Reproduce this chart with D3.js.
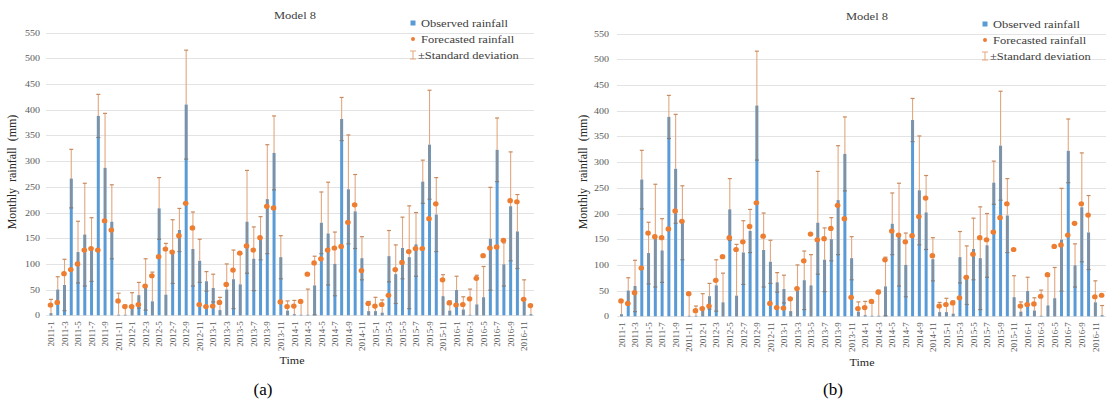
<!DOCTYPE html>
<html lang="en">
<head>
  <meta charset="UTF-8">
  <title>Model 8 rainfall</title>
  <style>
    body { margin: 0; background: #fff; }
    svg { display: block; font-family: "Liberation Serif", "Times New Roman", serif; }
    .grid line { stroke: #e3e3e3; stroke-width: 1; }
    .tick-label { fill: #595959; font-size: 10px; }
    .xtick { fill: #595959; font-size: 9px; }
    .title { fill: #404040; font-size: 12.5px; }
    .legend text { fill: #404040; font-size: 12.5px; }
    .axis-title { fill: #262626; font-size: 12px; }
    .caption { fill: #000; font-size: 17px; }
  </style>
</head>
<body>
  <svg width="1107" height="404"></svg>

  <script src="https://d3js.org/d3.v7.min.js"></script>
  <script>
    const months = [
      "2011-1","2011-2","2011-3","2011-4","2011-5","2011-6","2011-7","2011-8","2011-9","2011-10","2011-11","2011-12",
      "2012-1","2012-2","2012-3","2012-4","2012-5","2012-6","2012-7","2012-8","2012-9","2012-10","2012-11","2012-12",
      "2013-1","2013-2","2013-3","2013-4","2013-5","2013-6","2013-7","2013-8","2013-9","2013-10","2013-11","2013-12",
      "2014-1","2014-2","2014-3","2014-4","2014-5","2014-6","2014-7","2014-8","2014-9","2014-10","2014-11","2014-12",
      "2015-1","2015-2","2015-3","2015-4","2015-5","2015-6","2015-7","2015-8","2015-9","2015-10","2015-11","2015-12",
      "2016-1","2016-2","2016-3","2016-4","2016-5","2016-6","2016-7","2016-8","2016-9","2016-10","2016-11","2016-12"
    ];

    const observed = [
      4, 50, 59, 266, 123, 157, 128, 388, 287, 182, 1, 1,
      17, 39, 60, 27, 208, 40, 124, 166, 410, 129, 106, 66,
      53, 10, 50, 70, 60, 182, 110, 150, 226, 316, 113, 9,
      2, 1, 1, 58, 180, 159, 100, 382, 245, 202, 111, 8,
      8, 5, 115, 80, 131, 113, 138, 260, 332, 196, 37, 9,
      49, 11, 1, 21, 35, 149, 322, 99, 212, 163, 27, 2
    ];

    const stdDev = [
      27, 25, 50, 57, 60, 100, 62, 42, 106, 72, 42, 19,
      27, 25, 50, 57, 60, 100, 62, 42, 106, 72, 42, 19,
      27, 25, 50, 57, 60, 100, 62, 42, 106, 72, 42, 19,
      27, 25, 50, 57, 60, 100, 62, 42, 106, 72, 42, 19,
      27, 25, 50, 57, 60, 100, 62, 42, 106, 72, 42, 19,
      27, 25, 50, 57, 60, 100, 62, 42, 106, 72, 42, 19
    ];

    const forecastA = [
      20, 25, 81, 89, 100, 127, 130, 127, 184, 166, 28, 17,
      17, 21, 57, 77, 114, 129, 123, 155, 218, 170, 21, 17,
      18, 25, 60, 88, 121, 135, 127, 151, 212, 209, 26, 17,
      18, 27, 80, 102, 110, 127, 131, 134, 181, 215, 87, 23,
      18, 21, 39, 89, 103, 124, 130, 130, 188, 217, 69, 24,
      20, 21, 32, 72, 116, 131, 133, 146, 223, 221, 31, 19
    ];

    const forecastB = [
      30, 25, 46, 94, 162, 155, 153, 170, 205, 185, 44, 11,
      15, 20, 70, 116, 153, 130, 145, 175, 221, 156, 25, 17,
      16, 34, 54, 108, 160, 149, 151, 171, 216, 190, 37, 15,
      17, 29, 47, 110, 166, 158, 145, 157, 194, 230, 118, 20,
      23, 26, 36, 76, 121, 153, 149, 164, 192, 219, 130, 20,
      23, 24, 39, 81, 136, 139, 158, 181, 219, 197, 38, 41
    ];

    const yTicks = [0, 50, 100, 150, 200, 250, 300, 350, 400, 450, 500, 550];
    const xTickLabels = months.filter((m, i) => i % 2 === 0);

    const legendItems = ["Observed rainfall", "Forecasted rainfall", "\u00b1Standard deviation"];

    const barColor = "#5b9bd5";
    const dotColor = "#ed7d31";
    const errColor = "#e3a77f";
    const errInside = "#8a8f96";

    const svg = d3.select("svg");

    const panels = [
      { forecast: forecastA, x0: 47.6, x1: 534.3, gx0: 46, gx1: 534, yBottom: 315.3, yTop: 32.7,
        labelRight: 40, titleX: 295, titleY: 19, legX: 413, legY: 23,
        yTitleX: 16, yTitleY: 172, timeX: 292, timeY: 364, capX: 263, capY: 395, cap: "(a)" },
      { forecast: forecastB, x0: 618.1, x1: 1105.5, gx0: 617, gx1: 1106, yBottom: 316.3, yTop: 33.7,
        labelRight: 609, titleX: 867, titleY: 20, legX: 985, legY: 24,
        yTitleX: 587, yTitleY: 172, timeX: 862, timeY: 366, capX: 833, capY: 395, cap: "(b)" }
    ];

    function drawPanel(p) {
      const g = svg.append("g");

      const x = d3.scaleBand().domain(months).range([p.x0, p.x1]);
      const y = d3.scaleLinear().domain([0, 550]).range([p.yBottom, p.yTop]);
      const bw = 3;

      // gridlines
      g.append("g").attr("class", "grid")
        .selectAll("line").data(yTicks).join("line")
        .attr("x1", p.gx0).attr("x2", p.gx1)
        .attr("y1", d => Math.round(y(d)) + 0.5).attr("y2", d => Math.round(y(d)) + 0.5);

      // y tick labels
      g.selectAll(".ylab").data(yTicks).join("text")
        .attr("class", "tick-label")
        .attr("text-anchor", "end")
        .attr("transform", d => `translate(${p.labelRight},${y(d) + 3}) scale(1,0.9)`)
        .text(d => d);

      // x tick labels (every other month, rotated)
      g.selectAll(".xlab").data(xTickLabels).join("text")
        .attr("class", "xtick")
        .attr("text-anchor", "end")
        .attr("transform", d => `translate(${x(d) + x.bandwidth() / 2 + 3.2},${p.yBottom + 6}) rotate(-90)`)
        .text(d => d);

      const cx = d => x(d) + x.bandwidth() / 2;

      // observed bars
      g.selectAll(".bar").data(months).join("rect")
        .attr("x", d => cx(d) - bw / 2)
        .attr("width", bw)
        .attr("y", (d, i) => y(observed[i]))
        .attr("height", (d, i) => y(0) - y(observed[i]))
        .attr("fill", barColor);

      // error bars
      const eb = g.append("g");
      months.forEach((m, i) => {
        const v = observed[i], s = stdDev[i];
        const lo = Math.max(0, v - s), hi = v + s;
        const c = cx(m);
        eb.append("line").attr("x1", c).attr("x2", c)
          .attr("y1", y(lo)).attr("y2", y(v))
          .attr("stroke", errInside).attr("stroke-width", 2);
        eb.append("line").attr("x1", c).attr("x2", c)
          .attr("y1", y(v)).attr("y2", y(hi))
          .attr("stroke", errColor).attr("stroke-width", 1.1);
        eb.append("line").attr("x1", c - 2).attr("x2", c + 2)
          .attr("y1", y(hi)).attr("y2", y(hi))
          .attr("stroke", "#c98a5e").attr("stroke-width", 1.2);
        if (v - s > 0) {
          eb.append("line").attr("x1", c - 2).attr("x2", c + 2)
            .attr("y1", y(lo)).attr("y2", y(lo))
            .attr("stroke", "#7d7d7d").attr("stroke-width", 1.2);
        }
      });

      // forecast dots
      g.selectAll(".dot").data(months).join("ellipse")
        .attr("cx", d => cx(d) - 0.5)
        .attr("cy", (d, i) => y(p.forecast[i]))
        .attr("rx", 2.8).attr("ry", 2.6)
        .attr("fill", dotColor);

      // title
      g.append("text").attr("class", "title")
        .attr("text-anchor", "middle")
        .attr("transform", `translate(${p.titleX},${p.titleY}) scale(1,0.9)`)
        .text("Model 8");

      // legend
      const lg = g.append("g").attr("class", "legend");
      lg.append("rect").attr("x", p.legX - 2.5).attr("y", p.legY - 2.5)
        .attr("width", 5).attr("height", 5).attr("fill", barColor);
      lg.append("circle").attr("cx", p.legX).attr("cy", p.legY + 16)
        .attr("r", 2).attr("fill", dotColor);
      const ey = p.legY + 32;
      lg.append("line").attr("x1", p.legX).attr("x2", p.legX).attr("y1", ey - 4).attr("y2", ey + 4)
        .attr("stroke", errColor).attr("stroke-width", 1);
      lg.append("line").attr("x1", p.legX - 3).attr("x2", p.legX + 3).attr("y1", ey - 4).attr("y2", ey - 4)
        .attr("stroke", errColor).attr("stroke-width", 1);
      lg.append("line").attr("x1", p.legX - 3).attr("x2", p.legX + 3).attr("y1", ey + 4).attr("y2", ey + 4)
        .attr("stroke", errColor).attr("stroke-width", 1);
      lg.selectAll("text").data(legendItems).join("text")
        .attr("transform", (d, i) => `translate(${p.legX + (i === 2 ? 5 : 8)},${p.legY + 4 + i * 16}) scale(1,0.9)`)
        .text(d => d);

      // axis titles
      g.append("text").attr("class", "axis-title")
        .attr("text-anchor", "middle")
        .attr("transform", `translate(${p.yTitleX},${p.yTitleY}) rotate(-90)`)
        .attr("xml:space", "preserve")
        .text("Monthly  rainfall  (mm)");

      g.append("text").attr("class", "axis-title")
        .attr("text-anchor", "middle")
        .attr("transform", `translate(${p.timeX},${p.timeY}) scale(1,0.9)`)
        .text("Time");

      g.append("text").attr("class", "caption")
        .attr("text-anchor", "middle")
        .attr("x", p.capX).attr("y", p.capY)
        .text(p.cap);
    }

    panels.forEach(drawPanel);
  </script>
</body>
</html>
